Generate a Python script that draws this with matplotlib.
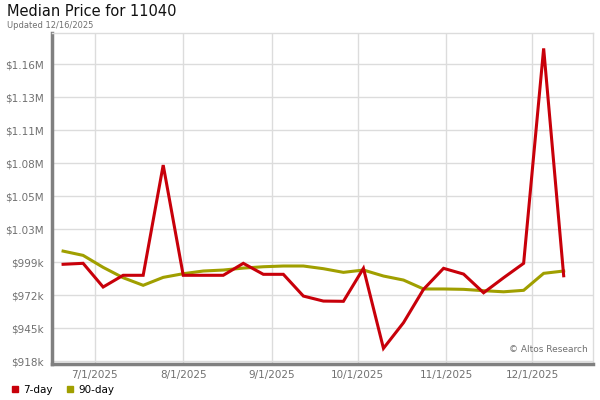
import matplotlib
matplotlib.use("Agg")
import matplotlib.pyplot as plt
import matplotlib.dates as mdates
import numpy as np
import pandas as pd
from matplotlib.lines import Line2D

# weekly points, 6/20/2025 .. 12/12/2025
dates = pd.date_range("2025-06-20", periods=26, freq="7D")

price_7day = [997.4, 998.2, 978.8, 988.4, 988.4, 1078.6, 988.4, 988.4, 988.4,
              998.2, 989.2, 989.2, 971.4, 967.3, 967.1, 994.1, 928.6, 949.6,
              976.9, 994.1, 989.4, 974.1, 986.4, 998.2, 1174.1, 988.0]
price_90day = [1008.2, 1004.7, 994.9, 986.4, 980.2, 986.7, 989.7, 991.9, 992.7,
               994.3, 995.4, 996.0, 996.0, 993.8, 990.8, 992.7, 987.8, 984.5,
               977.2, 977.2, 976.9, 975.8, 974.9, 976.1, 990.0, 991.9]

y_ticks = [918000 + 27000 * i for i in range(10)]
x_ticks = ["2025-07-01", "2025-08-01", "2025-09-01", "2025-10-01",
           "2025-11-01", "2025-12-01"]

RED = "#c8000a"
OLIVE = "#a09f00"
GRAY_TXT = "#707070"


def money(v, _pos=None):
    if v >= 1e6:
        return f"${v / 1e6:.2f}M"
    return f"${v / 1e3:.0f}k"


fig = plt.figure(figsize=(6, 4), dpi=100)
ax = fig.add_axes([52 / 600, 36 / 400, 541 / 600, 331 / 400])

ax.plot(dates, np.array(price_90day) * 1000, color=OLIVE, lw=2.2,
        solid_joinstyle="miter", zorder=3)
ax.plot(dates, np.array(price_7day) * 1000, color=RED, lw=2.2,
        solid_joinstyle="miter", zorder=4)

ax.set_ylim(915800, 1186700)
ax.set_xlim(pd.Timestamp("2025-06-16 03:00"), pd.Timestamp("2025-12-22 06:00"))

ax.set_yticks(y_ticks)
ax.yaxis.set_major_formatter(plt.FuncFormatter(money))
ax.set_xticks(pd.to_datetime(x_ticks))
ax.xaxis.set_major_formatter(mdates.DateFormatter("%-m/%-d/%Y"))

ax.grid(True, color="#dcdcdc", lw=1)
ax.set_axisbelow(True)
ax.tick_params(axis="y", length=0, labelsize=7.5, colors=GRAY_TXT, pad=6)
ax.tick_params(axis="x", length=0, labelsize=7.5, colors=GRAY_TXT, pad=4)

for side in ("top", "right"):
    ax.spines[side].set_color("#dcdcdc")
    ax.spines[side].set_linewidth(1)
for side in ("left", "bottom"):
    ax.spines[side].set_color("#808080")
    ax.spines[side].set_linewidth(2.5)

ax.text(0.99, 0.03, "\u00a9 Altos Research", transform=ax.transAxes,
        ha="right", va="bottom", fontsize=6.5, color=GRAY_TXT)

fig.text(7 / 600, 1 - 12 / 400, "Median Price for 11040", fontsize=10.5,
         va="center", ha="left", color="#111111")
fig.text(7 / 600, 1 - 25 / 400, "Updated 12/16/2025", fontsize=6,
         va="center", ha="left", color=GRAY_TXT)

handles = [Line2D([], [], marker="s", ls="", color=RED, markersize=5),
           Line2D([], [], marker="s", ls="", color=OLIVE, markersize=5)]
fig.legend(handles, ["7-day", "90-day"], loc="lower left",
           bbox_to_anchor=(0, -0.01), ncol=2, frameon=False, fontsize=7.5,
           handletextpad=0.3, columnspacing=1.2, handlelength=1)

fig.savefig("out.png", dpi=100)
